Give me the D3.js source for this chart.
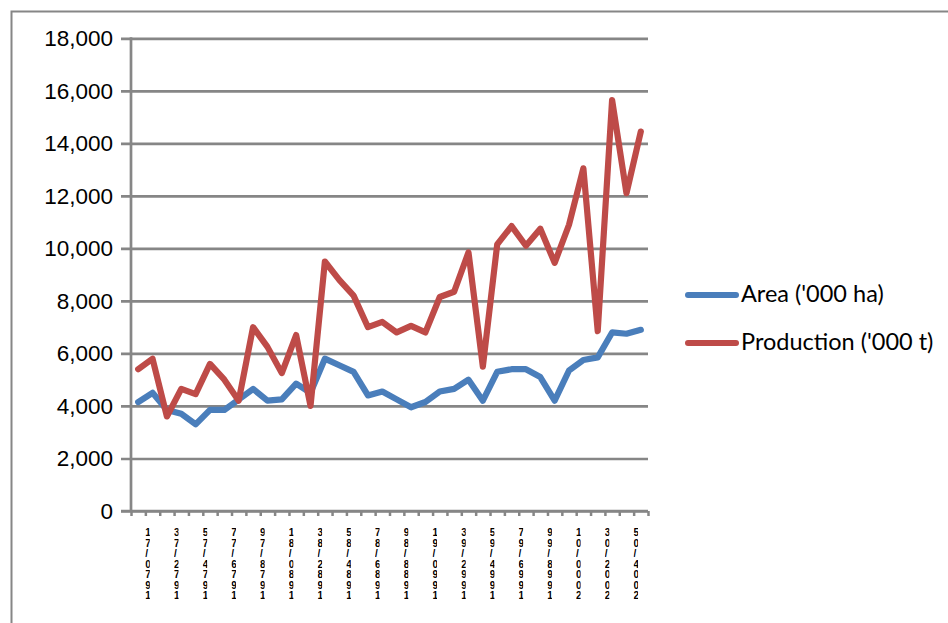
<!DOCTYPE html>
<html>
<head>
<meta charset="utf-8">
<script src="https://cdn.jsdelivr.net/npm/d3@7/dist/d3.min.js"></script>
<style>
  body { margin: 0; background: #fff; }
  svg { display: block; }
</style>
</head>
<body>
<div id="chart"></div>
<script>
// Data
var seasons = ["1970/71","1971/72","1972/73","1973/74","1974/75","1975/76","1976/77","1977/78","1978/79","1979/80",
               "1980/81","1981/82","1982/83","1983/84","1984/85","1985/86","1986/87","1987/88","1988/89","1989/90",
               "1990/91","1991/92","1992/93","1993/94","1994/95","1995/96","1996/97","1997/98","1998/99","1999/00",
               "2000/01","2001/02","2002/03","2003/04","2004/05","2005/06"];
var area = [4150,4500,3850,3700,3300,3850,3850,4250,4650,4200,
            4250,4850,4500,5800,5550,5300,4400,4550,4250,3950,
            4150,4550,4650,5000,4200,5300,5400,5400,5100,4200,
            5350,5750,5850,6800,6750,6900];
var production = [5400,5800,3600,4650,4450,5600,5000,4200,7000,6250,
                  5250,6700,4000,9500,8800,8200,7000,7200,6800,7050,
                  6800,8150,8350,9850,5500,10150,10850,10100,10750,9450,
                  10900,13050,6850,15650,12100,14450];
var yTicks = [0,2000,4000,6000,8000,10000,12000,14000,16000,18000];
var seriesNames = ["Area ('000 ha)", "Production ('000 t)"];
var seriesColors = ["#4a7ebb", "#be4b48"];

var W = 948, H = 623;
var plot = {left: 131, right: 648, top: 38.3, bottom: 511};
var grey = "#868686";

var svg = d3.select("#chart")
            .append("svg")
            .attr("width", W)
            .attr("height", H);

// Chart border
svg.append("rect")
   .attr("x", 11.5).attr("y", 11.5)
   .attr("width", W + 10).attr("height", H + 10)
   .attr("fill", "white")
   .attr("stroke", grey)
   .attr("stroke-width", 2);

// Scales
var x = d3.scaleBand()
          .domain(seasons)
          .range([plot.left, plot.right])
          .padding(0);
var xTick = d3.scaleLinear()
              .domain([0, seasons.length])
              .range([plot.left, plot.right]);
var y = d3.scaleLinear()
          .domain([0, 18000])
          .range([plot.bottom, plot.top]);

// Gridlines (also draw the outside tick marks)
svg.append("g")
   .attr("transform", "translate(" + (plot.left - 10) + ",0)")
   .call(d3.axisRight(y).tickValues(yTicks).tickSize(plot.right - plot.left + 10).tickFormat(""))
   .call(g => g.select(".domain").remove())
   .selectAll("line")
   .attr("stroke", grey)
   .attr("stroke-width", 2.7);

// Y axis
svg.append("g")
   .attr("transform", "translate(" + plot.left + ",0)")
   .call(d3.axisLeft(y).tickValues(yTicks).tickSize(0).tickPadding(18).tickFormat(d3.format(",")))
   .call(g => g.select(".domain").attr("stroke", grey).attr("stroke-width", 2.7)
                .attr("d", "M0," + (plot.top - 1) + "V" + (plot.bottom + 1)))
   .selectAll("text")
   .attr("font-family", "Liberation Sans, Arial, sans-serif")
   .attr("font-size", 22.5)
   .attr("fill", "#000");

// X axis
svg.append("g")
   .attr("transform", "translate(0," + plot.bottom + ")")
   .call(d3.axisBottom(xTick).tickValues(d3.range(seasons.length + 1)).tickSize(5).tickFormat(""))
   .call(g => g.select(".domain").attr("stroke", grey).attr("stroke-width", 2.7)
                .attr("d", "M" + (plot.left - 10) + ",0H" + plot.right))
   .selectAll("line")
   .attr("stroke", grey)
   .attr("stroke-width", 2.5);

// X labels: stacked characters, narrow column clips them
var defs = svg.append("defs");
var labelIdx = seasons.map((d, i) => i).filter(i => i % 2 === 0);
labelIdx.forEach(function(i) {
    var cx = x(seasons[i]) + x.bandwidth() / 2;
    defs.append("clipPath")
        .attr("id", "lab" + i)
        .append("rect")
        .attr("x", cx + 7)
        .attr("y", 520)
        .attr("width", 4.6)
        .attr("height", 90);
    var chars = seasons[i].split("").reverse();
    var t = svg.append("text")
               .attr("clip-path", "url(#lab" + i + ")")
               .attr("font-family", "Liberation Sans, Arial, sans-serif")
               .attr("font-size", 10)
               .attr("font-weight", "bold")
               .attr("fill", "#000");
    t.selectAll("tspan")
     .data(chars)
     .enter()
     .append("tspan")
     .attr("x", cx + 7)
     .attr("y", (d, k) => 536 + k * 10.5)
     .text(d => d);
});

// Lines
var line = d3.line()
             .x((d, i) => x(seasons[i]) + x.bandwidth() / 2)
             .y(d => y(d));

[area, production].forEach(function(s, k) {
    svg.append("path")
       .attr("d", line(s))
       .attr("fill", "none")
       .attr("stroke", seriesColors[k])
       .attr("stroke-width", 6.2)
       .attr("stroke-linejoin", "round")
       .attr("stroke-linecap", "round");
});

// Legend
var legend = svg.append("g")
                .selectAll("g")
                .data(seriesNames)
                .enter()
                .append("g")
                .attr("transform", (d, i) => "translate(0," + (295 + i * 48) + ")");
legend.append("line")
      .attr("x1", 688).attr("x2", 736)
      .attr("y1", 0).attr("y2", 0)
      .attr("stroke", (d, i) => seriesColors[i])
      .attr("stroke-width", 6)
      .attr("stroke-linecap", "round");
legend.append("text")
      .attr("x", 741)
      .attr("y", 1)
      .attr("dominant-baseline", "middle")
      .attr("font-family", "Lato, Carlito, sans-serif")
      .attr("font-size", 23.5)
      .attr("fill", "#000")
      .text(d => d);
</script>
</body>
</html>
